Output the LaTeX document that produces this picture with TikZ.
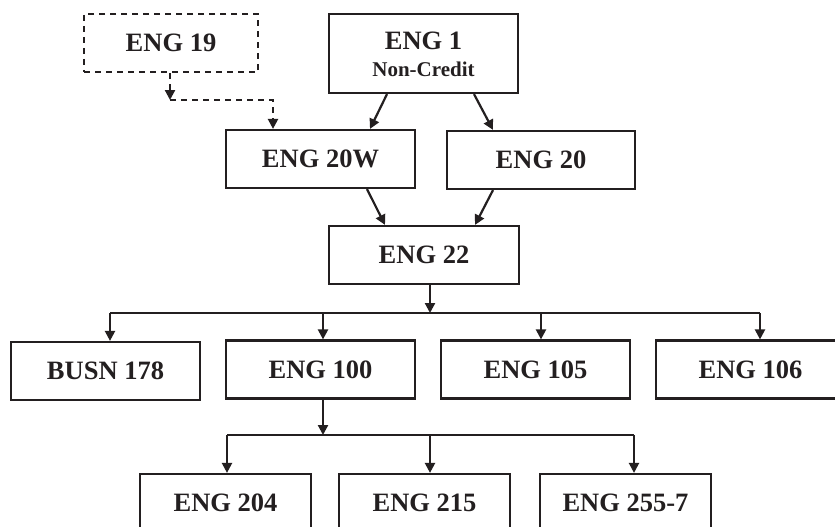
\documentclass[tikz,border=0pt]{standalone}
\usepackage{fontspec}
\setmainfont{Liberation Serif}
\usetikzlibrary{arrows.meta}
\definecolor{ink}{RGB}{35,31,32}
\tikzset{
  box/.style={draw=ink, line width=2.2pt, rectangle, inner sep=0pt, minimum width=189pt, minimum height=58pt,
    text=ink, font=\fontsize{26.5}{30}\selectfont\bfseries},
  dbox/.style={box, dash pattern=on 6pt off 5pt},
  arr/.style={draw=ink, line width=2.2pt, -{Triangle[length=10pt,width=10pt]}},
  darr/.style={arr, dash pattern=on 6pt off 5pt},
  ln/.style={draw=ink, line width=2.2pt},
  lbl/.style={text=ink, inner sep=0pt, anchor=base}
}
\begin{document}
\begin{tikzpicture}[x=1pt,y=-1pt]
\useasboundingbox (0,0) rectangle (835,527);
\clip (0,0) rectangle (835,527);
\fill[white] (0,0) rectangle (835,527);
% top
\node[dbox, minimum width=174pt] (eng19) at (171,43) {ENG 19};
\node[box, minimum height=79pt] (eng1) at (423.5,53.5) {};
\node[lbl, font=\fontsize{26.5}{30}\selectfont\bfseries] (eng1a) at (423.5,50) {ENG 1};
\node[lbl, font=\fontsize{21}{24}\selectfont\bfseries] (eng1b) at (423.5,77) {Non-Credit};
\node[box] (eng20w) at (320.5,159) {ENG 20W};
\node[box, minimum width=188pt] (eng20) at (541,160) {ENG 20};
\node[box, minimum width=190pt] (eng22) at (424,255) {ENG 22};
% row 2
\node[box] (busn) at (105.5,371) {BUSN 178};
\node[box] (eng100) at (320.5,369.5) {ENG 100};
\node[box] (eng105) at (535.5,369.5) {ENG 105};
\node[box] (eng106) at (750.5,369.5) {ENG 106};
% row 3
\node[box, minimum width=171pt] (eng204) at (225.5,503) {ENG 204};
\node[box, minimum width=171pt] (eng215) at (424.5,503) {ENG 215};
\node[box, minimum width=171pt] (eng255) at (625.5,503) {ENG 255-7};
% dashed connector
\coordinate (dc) at (170,100);
\coordinate (dd) at (273,100);
\draw[darr] (eng19.south -| dc) -- (dc);
\draw[darr] (dc) -- (dd) -- (dd |- eng20w.north);
% diagonal arrows
\draw[arr] ([xshift=-36.5pt]eng1.south) -- ([xshift=49.5pt]eng20w.north);
\draw[arr] ([xshift=50.5pt]eng1.south) -- ([xshift=-48pt]eng20.north);
\draw[arr] ([xshift=46.5pt]eng20w.south) -- ([xshift=-39pt]eng22.north);
\draw[arr] ([xshift=-48pt]eng20.south) -- ([xshift=51pt]eng22.north);
% bus 1
\coordinate (b0) at (430,313);
\coordinate (b1) at (110,313);
\coordinate (b2) at (323,313);
\coordinate (b3) at (541,313);
\coordinate (b4) at (760,313);
\draw[arr] (eng22.south -| b0) -- (b0);
\draw[ln] (b1) -- (b4);
\draw[arr] (b1) -- (b1 |- busn.north);
\draw[arr] (b2) -- (b2 |- eng100.north);
\draw[arr] (b3) -- (b3 |- eng105.north);
\draw[arr] (b4) -- (b4 |- eng106.north);
% bus 2
\coordinate (c0) at (323,435);
\coordinate (c1) at (227,435);
\coordinate (c2) at (430,435);
\coordinate (c3) at (634,435);
\draw[arr] (eng100.south -| c0) -- (c0);
\draw[ln] (c1) -- (c3);
\draw[arr] (c1) -- (c1 |- eng204.north);
\draw[arr] (c2) -- (c2 |- eng215.north);
\draw[arr] (c3) -- (c3 |- eng255.north);
\end{tikzpicture}
\end{document}
